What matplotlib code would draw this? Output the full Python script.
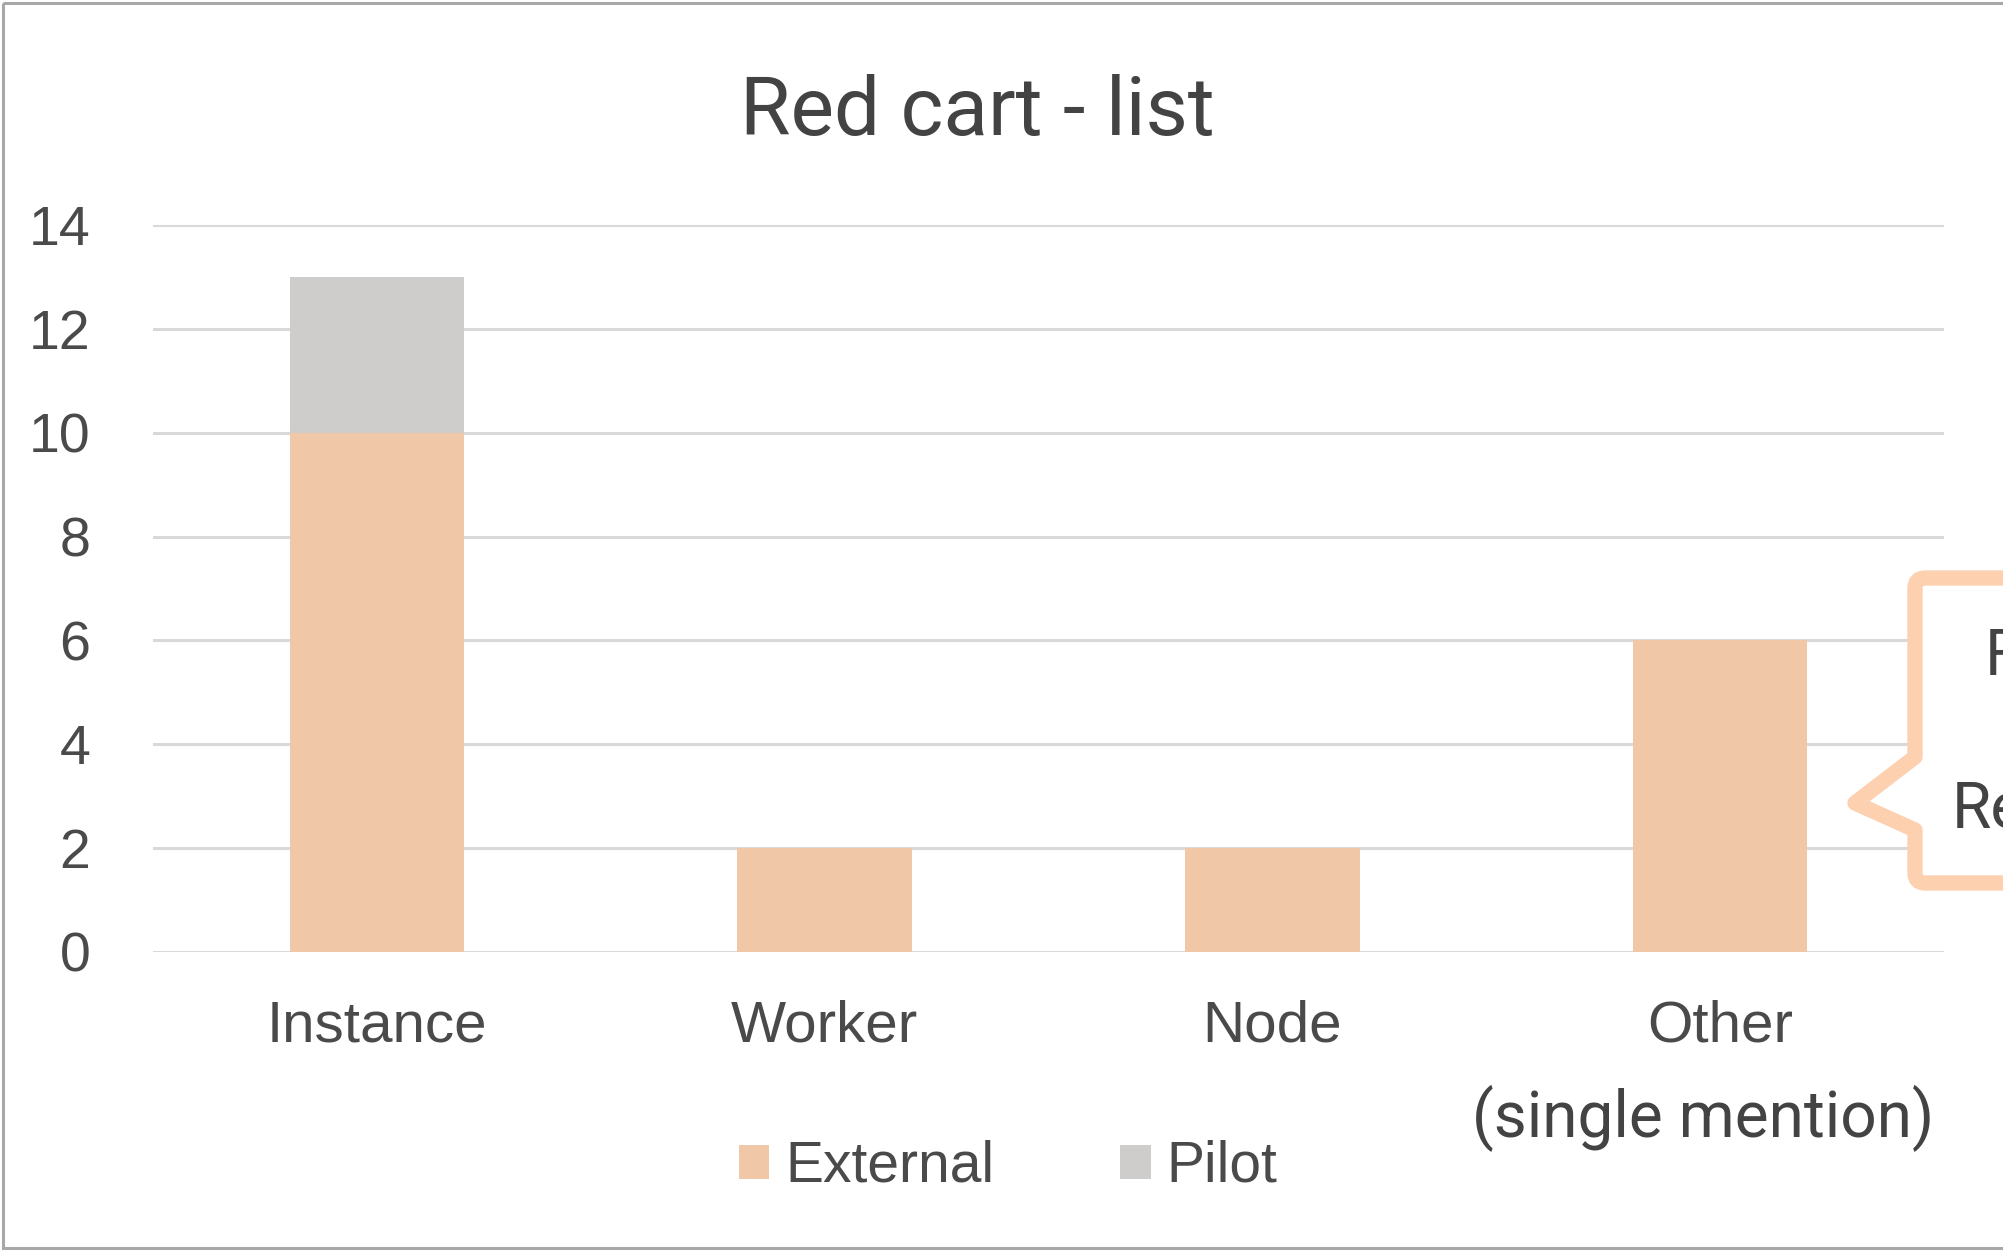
import matplotlib
matplotlib.use("Agg")
import matplotlib.pyplot as plt
from matplotlib.path import Path
from matplotlib.patches import PathPatch, Rectangle
from matplotlib import transforms

# ---- data ----
categories = ["Instance", "Worker", "Node", "Other"]
external = [10, 2, 2, 6]
pilot = [3, 0, 0, 0]
yticks = [0, 2, 4, 6, 8, 10, 12, 14]

W, H = 2003, 1254
DPI = 100
fig = plt.figure(figsize=(W / DPI, H / DPI), dpi=DPI)
fig.patch.set_facecolor("white")

# pixel transform (origin top-left) for decorations
px = transforms.Affine2D().scale(1 / W, -1 / H).translate(0, 1) + fig.transFigure

ax_left, ax_right, ax_top, ax_bottom = 153, 1944, 225, 952
ax = fig.add_axes([ax_left / W, 1 - ax_bottom / H,
                   (ax_right - ax_left) / W, (ax_bottom - ax_top) / H])

EXT_COLOR = "#F0C8A8"
PIL_COLOR = "#CFCCCC"
TXT = "#4a4a4a"

x = list(range(len(categories)))
b1 = ax.bar(x, external, width=0.39, color=EXT_COLOR, label="External", zorder=3)
b2 = ax.bar(x, pilot, width=0.39, bottom=external, color=PIL_COLOR, label="Pilot", zorder=3)

ax.set_xlim(-0.5, 3.5)
ax.set_ylim(0, 14)
ax.set_yticks(yticks)
ax.set_yticklabels([str(v) for v in yticks])
ax.set_xticks(x)
ax.set_xticklabels(categories)
for s in ax.spines.values():
    s.set_visible(False)
ax.yaxis.grid(True, color="#D9D9D9", linewidth=2.2, zorder=0)
ax.set_axisbelow(True)
ax.tick_params(axis="both", length=0)
ax.tick_params(axis="y", pad=45, labelsize=40, labelcolor=TXT)
ax.tick_params(axis="x", pad=34, labelsize=42, labelcolor=TXT)
for lab in ax.get_xticklabels() + ax.get_yticklabels():
    lab.set_fontfamily("Liberation Sans")
ax.patch.set_alpha(0)

# title
fig.text(977 / W, 1 - 113 / H, "Red cart - list", ha="center", va="center",
         fontsize=59, color="#434343", family="Roboto")

# legend
leg = fig.legend(handles=[b1, b2], labels=["External", "Pilot"], ncol=2,
                 loc="center", bbox_to_anchor=(1008 / W, 1 - 1167 / H),
                 frameon=False, prop={"family": "Liberation Sans", "size": 41},
                 handlelength=0.54, handleheight=0.54, handletextpad=0.28,
                 columnspacing=2.2, labelcolor=TXT)

# sub-caption under the last category
fig.text(1703 / W, 1 - 1118 / H, "(single mention)", ha="center", va="center",
         fontsize=46, color="#434343", family="Roboto")

# callout box with a left-pointing wedge
verts = [(2040, 578), (1925, 578), (1915, 578), (1915, 588), (1915, 757),
         (1855, 803), (1915, 830), (1915, 873), (1915, 883), (1925, 883),
         (2040, 883)]
codes = [Path.MOVETO, Path.LINETO, Path.CURVE3, Path.CURVE3, Path.LINETO,
         Path.LINETO, Path.LINETO, Path.LINETO, Path.CURVE3, Path.CURVE3,
         Path.LINETO]
callout = PathPatch(Path(verts, codes), transform=px, facecolor="white",
                    edgecolor="#FDD0B0", linewidth=11, joinstyle="round",
                    zorder=5)
fig.add_artist(callout)
fig.text(1985 / W, 1 - 657 / H, "F", ha="left", va="center", fontsize=46,
         color="#434343", family="Roboto", zorder=6)
fig.text(1952 / W, 1 - 810 / H, "Re", ha="left", va="center", fontsize=46,
         color="#434343", family="Roboto", zorder=6)

# outer frame of the slide
frame = Rectangle((3, 3), 2100, 1245, transform=px, fill=False,
                  edgecolor="#A8A8A8", linewidth=2.2, zorder=7)
fig.add_artist(frame)

fig.savefig("out.png", dpi=DPI, facecolor="white")
